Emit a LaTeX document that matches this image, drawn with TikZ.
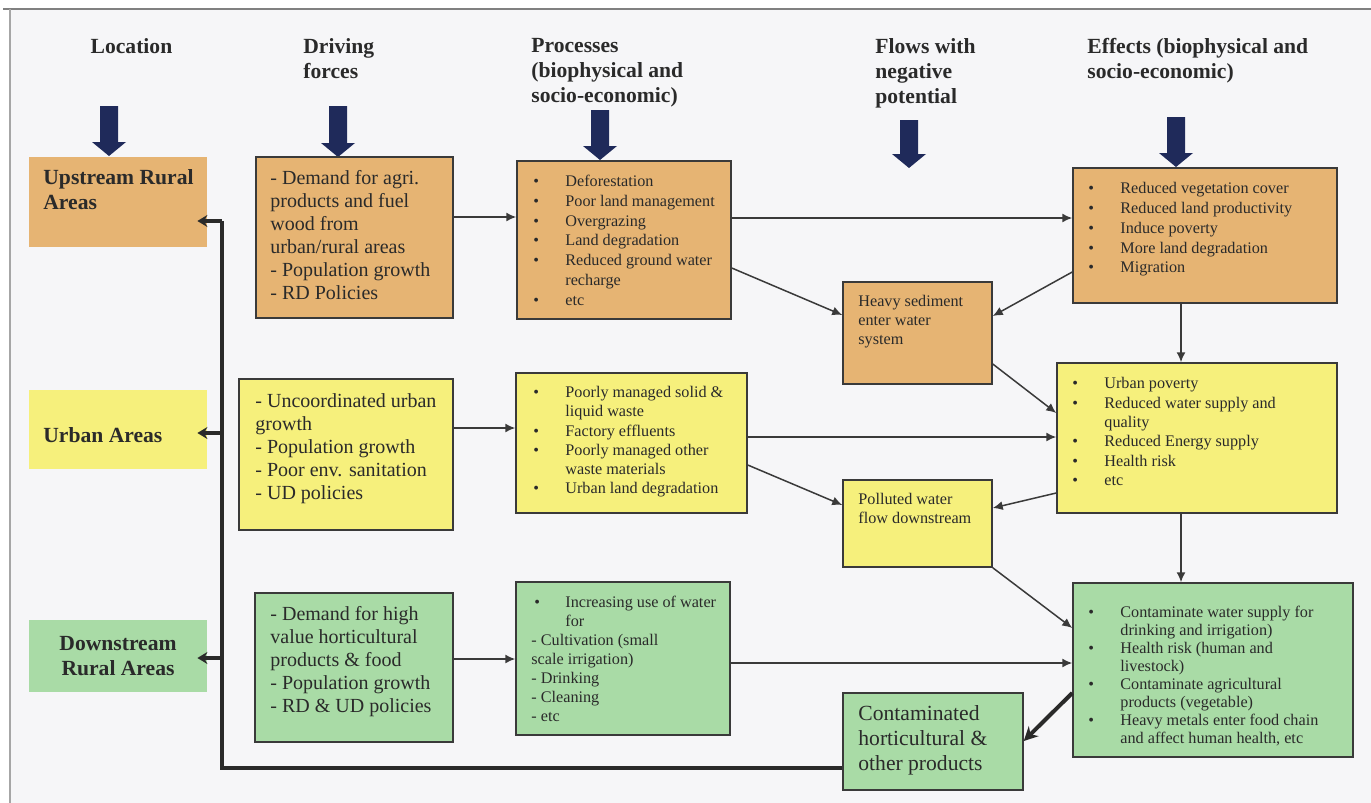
\documentclass[tikz,border=0pt]{standalone}
\usepackage{fontspec}
\setmainfont{Liberation Serif}
\usetikzlibrary{arrows.meta,fit}
\definecolor{tanfill}{HTML}{E6B473}
\definecolor{yelfill}{HTML}{F6F07C}
\definecolor{grnfill}{HTML}{A9DBA6}
\definecolor{edge}{HTML}{3A3A3A}
\definecolor{ink}{HTML}{2A2A2A}
\definecolor{navy}{HTML}{1F2A5A}
\definecolor{paper}{HTML}{F6F6F8}
\newcommand\fz[2]{\fontsize{#1}{#2}\selectfont}
\newcommand\bl{\makebox[16pt][l]{\textbullet}}
\newcommand\ind{\hspace*{16pt}}
\newcommand\bigarrow[3]{\fill[navy] (#1-9,#2) -- (#1+9,#2) -- (#1+9,#3-14) -- (#1+17,#3-14) -- (#1,#3) -- (#1-17,#3-14) -- (#1-9,#3-14) -- cycle;}
\begin{document}
\begin{tikzpicture}[x={(0.5pt,0pt)},y={(0pt,-0.5pt)},
  box/.style={inner sep=0pt,draw=edge,line width=0.75pt},
  tanbox/.style={box,fill=tanfill},
  yelbox/.style={box,fill=yelfill},
  grnbox/.style={box,fill=grnfill},
  locbox/.style={inner sep=0pt,draw=none},
  txt/.style={inner sep=0pt,anchor=north west,align=left,text=ink},
  hdr/.style={txt,font=\fz{10.8}{12.5}\bfseries},
  loctxt/.style={txt,font=\fz{10.8}{12.5}\bfseries},
  midtxt/.style={txt,font=\fz{10}{11.5}},
  conn/.style={draw=edge,line width=0.75pt,-{Latex[length=5pt,width=4.5pt]}},
  thickconn/.style={draw=ink,line width=2pt,-{Stealth[length=7pt,width=7pt]}},
  fb/.style={draw=ink,line width=1.75pt},
  fbarrow/.style={fb,-{Stealth[length=5pt,width=6pt]},shorten >=-5pt}
]
\useasboundingbox (0,0) rectangle (1371,803);
\fill[white] (0,0) rectangle (1371,803);
\fill[paper] (10,9) rectangle (1371,803);
\draw[gray,line width=0.6pt] (3,9) -- (1371,9);
\draw[gray!70,line width=0.6pt] (10,9) -- (10,803);

% headers
\node[hdr,anchor=north] (hLoc) at (131.5,38) {Location};
\node[hdr] (hDrv) at (303,38) {Driving\\forces};
\node[hdr] (hProc) at (531,38) {Processes\\(biophysical and\\socio-economic)};
\node[hdr] (hFlow) at (875,38) {Flows with\\negative\\potential};
\node[hdr] (hEff) at (1087,38) {Effects (biophysical and\\socio-economic)};

% big arrows
\bigarrow{109}{106}{156}
\bigarrow{338}{106}{157}
\bigarrow{600}{110}{160}
\bigarrow{909}{120}{168}
\bigarrow{1176}{117}{167}

% location column
\node[locbox,fill=tanfill,fit={(29,157) (207,247)}] (locU) {};
\node[loctxt] (locUt) at (43,169) {Upstream Rural\\Areas};
\node[locbox,fill=yelfill,fit={(29,390) (207,469)}] (locM) {};
\node[loctxt] (locMt) at (43,427) {Urban Areas};
\node[locbox,fill=grnfill,fit={(29,620) (207,692)}] (locD) {};
\node[loctxt,anchor=center,align=center] (locDt) at (locD.center) {Downstream\\Rural Areas};

% driving forces
\node[tanbox,fit={(256,157) (453,318)}] (drv1) {};
\node[midtxt] (drv1t) at (270,170) {- Demand for agri.\\products and fuel\\wood from\\urban/rural areas\\- Population growth\\- RD Policies};
\node[yelbox,fit={(239,379) (453,530)}] (drv2) {};
\node[midtxt] (drv2t) at (255,393) {- Uncoordinated urban\\growth\\- Population growth\\- Poor env. sanitation\\- UD policies};
\node[grnbox,fit={(255,593) (453,742)}] (drv3) {};
\node[midtxt] (drv3t) at (270,606) {- Demand for high\\value horticultural\\products \& food\\- Population growth\\- RD \& UD policies};

% processes
\node[tanbox,fit={(517,161) (731,319)}] (prc1) {};
\node[txt,font=\fz{8.1}{9.85}] (prc1t) at (533,175) {\bl Deforestation\\\bl Poor land management\\\bl Overgrazing\\\bl Land degradation\\\bl Reduced ground water\\\ind recharge\\\bl etc};
\node[yelbox,fit={(516,373) (747,513)}] (prc2) {};
\node[txt,font=\fz{8.1}{9.6}] (prc2t) at (533,386) {\bl Poorly managed solid \&\\\ind liquid waste\\\bl Factory effluents\\\bl Poorly managed other\\\ind waste materials\\\bl Urban land degradation};
\node[grnbox,fit={(516,582) (730,735)}] (prc3) {};
\node[txt,font=\fz{8.1}{9.5}] (prc3t) at (531,596) {\hspace*{1.5pt}\makebox[15.5pt][l]{\textbullet}Increasing use of water\\\hspace*{17pt}for\\- Cultivation (small\\scale irrigation)\\- Drinking\\- Cleaning\\- etc};

% flows
\node[tanbox,fit={(843,282) (992,384)}] (flw1) {};
\node[txt,font=\fz{8.1}{9.5}] (flw1t) at (858,295) {Heavy sediment\\enter water\\system};
\node[yelbox,fit={(843,480) (992,567)}] (flw2) {};
\node[txt,font=\fz{8.1}{9.5}] (flw2t) at (858,493) {Polluted water\\flow downstream};
\node[grnbox,fit={(843,693) (1023,790)}] (flw3) {};
\node[txt,font=\fz{10.8}{12.5}] (flw3t) at (858,705) {Contaminated\\horticultural \&\\other products};

% effects
\node[tanbox,fit={(1073,168) (1337,303)}] (eff1) {};
\node[txt,font=\fz{8.1}{9.9}] (eff1t) at (1088,182) {\bl Reduced vegetation cover\\\bl Reduced land productivity\\\bl Induce poverty\\\bl More land degradation\\\bl Migration};
\node[yelbox,fit={(1057,363) (1337,513)}] (eff2) {};
\node[txt,font=\fz{8.1}{9.7}] (eff2t) at (1072,377) {\bl Urban poverty\\\bl Reduced water supply and\\\ind quality\\\bl Reduced Energy supply\\\bl Health risk\\\bl etc};
\node[grnbox,fit={(1073,583) (1353,757)}] (eff3) {};
\node[txt,font=\fz{8.1}{9}] (eff3t) at (1088,606) {\bl Contaminate water supply for\\\ind drinking and irrigation)\\\bl Health risk (human and\\\ind livestock)\\\bl Contaminate agricultural\\\ind products (vegetable)\\\bl Heavy metals enter food chain\\\ind and affect human health, etc};

% connectors
\draw[conn] (drv1.east |- 0,217) -- (prc1.west |- 0,217);
\draw[conn] (prc1.east |- 0,218) -- (eff1.west |- 0,218);
\draw[conn] (prc1.east |- 0,268) -- (flw1.west |- 0,315);
\draw[conn] (eff1.west |- 0,272) -- (flw1.east |- 0,316);
\draw[conn] (eff1.south -| 1181,0) -- (eff2.north -| 1181,0);
\draw[conn] (flw1.east |- 0,364) -- (eff2.west |- 0,413);
\draw[conn] (drv2.east |- 0,428) -- (prc2.west |- 0,428);
\draw[conn] (prc2.east |- 0,437) -- (eff2.west |- 0,437);
\draw[conn] (prc2.east |- 0,465) -- (flw2.west |- 0,505);
\draw[conn] (eff2.west |- 0,493) -- (flw2.east |- 0,508);
\draw[conn] (eff2.south -| 1181,0) -- (eff3.north -| 1181,0);
\draw[conn] (flw2.south east) -- (eff3.west |- 0,628);
\draw[conn] (drv3.east |- 0,659) -- (prc3.west |- 0,659);
\draw[conn] (prc3.east |- 0,663) -- (eff3.west |- 0,663);
\draw[thickconn] (eff3.west |- 0,693) -- (flw3.east |- 0,741);

% feedback
\coordinate (bus) at (222,768);
\draw[fb] (flw3.west |- bus) -- (bus) -- (bus |- 0,221);
\draw[fbarrow] (bus |- 0,221) -- (locU.east |- 0,221);
\draw[fbarrow] (bus |- 0,433) -- (locM.east |- 0,433);
\draw[fbarrow] (bus |- 0,658) -- (locD.east |- 0,658);
\end{tikzpicture}
\end{document}
